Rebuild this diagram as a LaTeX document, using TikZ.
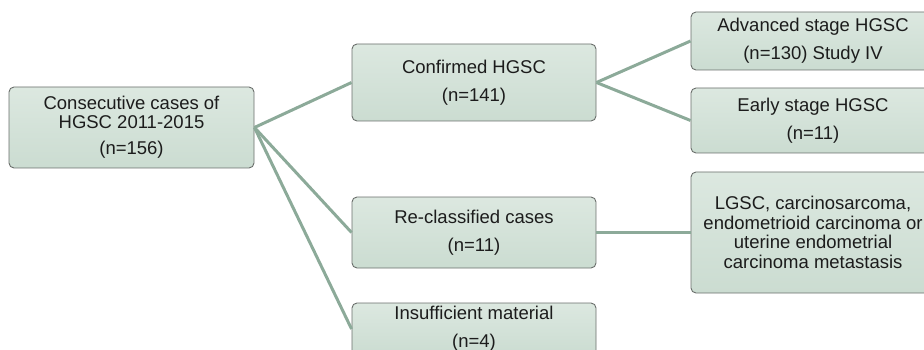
\documentclass[tikz,border=0pt]{standalone}
\usepackage{fontspec}
\setmainfont{Liberation Sans}
\definecolor{boxtop}{HTML}{DCE8E0}
\definecolor{boxbot}{HTML}{CBDCD1}
\definecolor{boxedge}{HTML}{6A6E6B}
\definecolor{linkcol}{HTML}{8CAA99}
\definecolor{txt}{HTML}{1C1C1C}
\begin{document}
\begin{tikzpicture}[x=1pt,y=-1pt,
  box/.style={draw=boxedge, line width=0.9pt, rounded corners=5pt,
    top color=boxtop, bottom color=boxbot, text=txt,
    minimum width=244pt, inner sep=0pt, align=center,
    font=\fontsize{18.5}{28}\selectfont},
  link/.style={draw=linkcol, line width=3pt}]
\useasboundingbox (0,0) rectangle (924,350);
\clip (0,0) rectangle (924,350);
% links first (behind boxes)
\node[box, minimum width=245pt, minimum height=81pt, font=\fontsize{18.5}{18.3}\selectfont] (root) at (131.5,127.5)
  {Consecutive cases of\\HGSC 2011-2015\\[8pt](n=156)};
\node[box, minimum height=77pt] (conf) at (474,82.5) {Confirmed HGSC\\(n=141)};
\node[box, minimum height=71pt] (recl) at (474,232.5) {Re-classified cases\\(n=11)};
\node[box, minimum height=52pt] (insuf) at (474,329) {Insufficient material\\(n=4)};
\node[box, minimum height=58pt] (adv) at (813,41) {Advanced stage HGSC\\(n=130) Study IV};
\node[box, minimum height=65pt] (early) at (813,120.5) {Early stage HGSC\\(n=11)};
\node[box, minimum height=121pt, font=\fontsize{18.5}{19.7}\selectfont] (lgsc) at (813,232.5)
  {LGSC, carcinosarcoma,\\endometrioid carcinoma or\\uterine endometrial\\carcinoma metastasis};
\begin{scope}[on background layer/.try]
\end{scope}
\draw[link] (root.east) -- (conf.west);
\draw[link] (root.east) -- (recl.west);
\draw[link] (root.east) -- (insuf.west);
\draw[link] (conf.east) -- (adv.west);
\draw[link] (conf.east) -- (early.west);
\draw[link] (recl.east) -- (lgsc.west);
\end{tikzpicture}
\end{document}
